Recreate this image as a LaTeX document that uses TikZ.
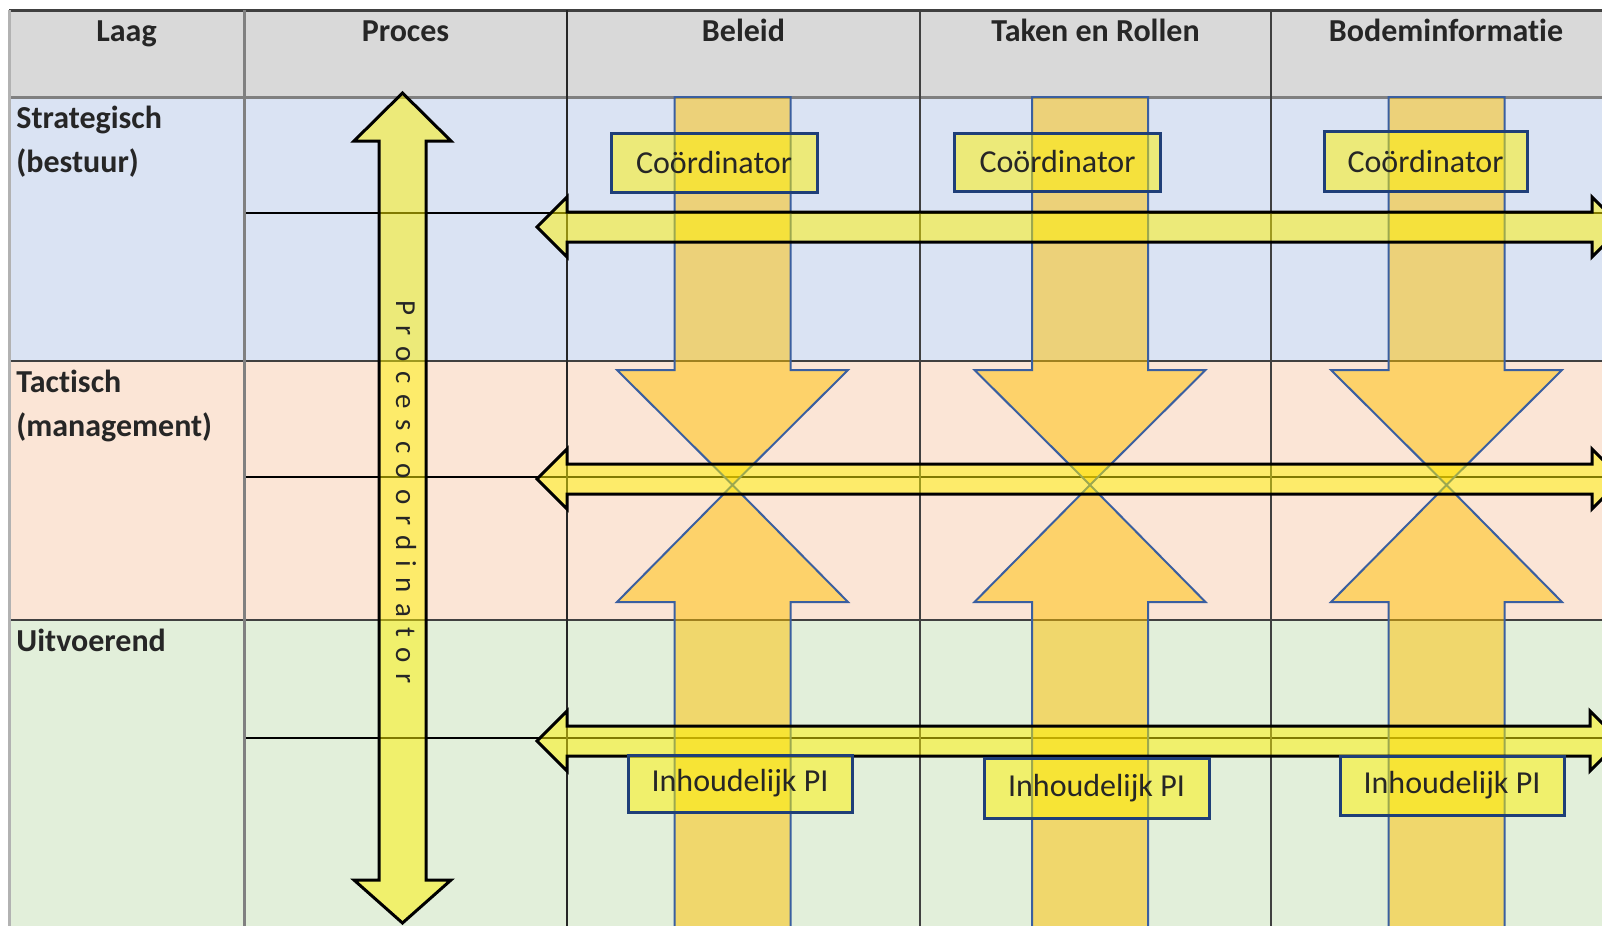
\documentclass[tikz,border=0pt]{standalone}
\usepackage{fontspec}
\setmainfont{Carlito}[Ligatures=NoCommon]
\newfontfamily\spacedfont[LetterSpace=36,Ligatures=NoCommon]{Carlito}
\usetikzlibrary{positioning}

\definecolor{kopgrijs}{HTML}{D9D9D9}
\definecolor{strategblauw}{HTML}{DAE3F3}
\definecolor{tactischroze}{HTML}{FBE5D6}
\definecolor{uitvoergroen}{HTML}{E2EFDA}
\definecolor{oranje}{HTML}{FFC000}
\definecolor{pijlrand}{HTML}{3A5FA0}
\definecolor{kaderblauw}{HTML}{1F3F78}
\definecolor{lijngrijs}{HTML}{404040}
\definecolor{tekstgrijs}{HTML}{262626}

\tikzset{
  geelpijl/.style={draw=black, line width=1.5pt, fill=yellow, fill opacity=0.5},
  oranjepijl/.style={draw=pijlrand, line width=1pt, fill=oranje, fill opacity=0.5},
  rolkader/.style={draw=kaderblauw, line width=1.5pt, fill=yellow, fill opacity=0.5,
    text opacity=1, text=tekstgrijs, inner sep=0pt, font=\fontsize{16}{19}\selectfont},
  kop/.style={anchor=base, text=tekstgrijs, font=\bfseries\fontsize{16}{19}\selectfont},
  laagtekst/.style={anchor=base west, align=left, text=tekstgrijs, inner sep=0pt,
    font=\bfseries\fontsize{16}{22}\selectfont}
}

\begin{document}
\begin{tikzpicture}[x=0.5pt, y=-0.5pt]
  \useasboundingbox (0,0) rectangle (1602,926);
  \fill[white] (0,0) rectangle (1602,926);
  \begin{scope}
    \clip (0,0) rectangle (1602,926);
    % rijen
    \fill[kopgrijs] (9,10) rectangle (1640,97);
    \fill[strategblauw] (9,97) rectangle (1640,361);
    \fill[tactischroze] (9,361) rectangle (1640,620);
    \fill[uitvoergroen] (9,620) rectangle (1640,940);

    % lijnen van de tabel
    \draw[lijngrijs, line width=1.5pt] (9,10) -- (1640,10);
    \draw[gray, line width=1.5pt] (9,97) -- (1640,97);
    \draw[lijngrijs, line width=1pt] (9,361) -- (1640,361);
    \draw[lijngrijs, line width=1pt] (9,620) -- (1640,620);
    \draw[black, line width=1pt] (244,213) -- (1640,213);
    \draw[black, line width=1pt] (244,477) -- (1640,477);
    \draw[black, line width=1pt] (244,738) -- (1640,738);
    \draw[gray!60, line width=1.5pt] (9,10) -- (9,940);
    \draw[gray, line width=1.5pt] (244,10) -- (244,940);
    \draw[black!85, line width=1pt] (567,10) -- (567,940);
    \draw[lijngrijs, line width=1pt] (920,10) -- (920,940);
    \draw[lijngrijs, line width=1pt] (1271,10) -- (1271,940);

    % oranje pijlen
    \draw[oranjepijl] (674.5,97) -- (790.5,97) -- (790.5,370) -- (848,370) -- (732.5,485)
      -- (617,370) -- (674.5,370) -- cycle;
    \draw[oranjepijl] (674.5,940) -- (674.5,602) -- (617,602) -- (732.5,485)
      -- (848,602) -- (790.5,602) -- (790.5,940);
    \draw[oranjepijl] (1032,97) -- (1148,97) -- (1148,370) -- (1205.5,370) -- (1090,485)
      -- (974.5,370) -- (1032,370) -- cycle;
    \draw[oranjepijl] (1032,940) -- (1032,602) -- (974.5,602) -- (1090,485)
      -- (1205.5,602) -- (1148,602) -- (1148,940);
    \draw[oranjepijl] (1388.5,97) -- (1504.5,97) -- (1504.5,370) -- (1562,370) -- (1446.5,485)
      -- (1331,370) -- (1388.5,370) -- cycle;
    \draw[oranjepijl] (1388.5,940) -- (1388.5,602) -- (1331,602) -- (1446.5,485)
      -- (1562,602) -- (1504.5,602) -- (1504.5,940);

    % gele pijlen tussen de kolommen
    \draw[geelpijl] (537,227) -- (567,197) -- (567,212) -- (1592,212) -- (1592,197) -- (1622,227)
      -- (1592,257) -- (1592,242) -- (567,242) -- (567,257) -- cycle;
    \draw[geelpijl] (537,479) -- (567,449) -- (567,464) -- (1592,464) -- (1592,449) -- (1622,479)
      -- (1592,509) -- (1592,494) -- (567,494) -- (567,509) -- cycle;
    \draw[geelpijl] (537,741) -- (567,711) -- (567,726) -- (1590,726) -- (1590,711) -- (1620,741)
      -- (1590,771) -- (1590,756) -- (567,756) -- (567,771) -- cycle;

    % procespijl
    \draw[geelpijl] (402.5,93) -- (451,141) -- (426,141) -- (426,880) -- (451,880) -- (402.5,923)
      -- (354,880) -- (379,880) -- (379,141) -- (354,141) -- cycle;
    \node[rotate=-90, text=tekstgrijs, font=\spacedfont\fontsize{14.5}{16}\selectfont]
      (procescoordinator) at (406,492) {Procescoordinator};

    % rollen
    \node[rolkader, minimum width=103pt, minimum height=29.5pt] (coordbeleid) at (714,163) {Coördinator};
    \node[rolkader, minimum width=103pt, minimum height=29pt] (coordtaken) at (1057.5,162) {Coördinator};
    \node[rolkader, minimum width=101.5pt, minimum height=30pt] (coordbodem) at (1425.5,161.5) {Coördinator};
    \node[rolkader, minimum width=112pt, minimum height=28.5pt] (pibeleid) at (740,783.5) {Inhoudelijk PI};
    \node[rolkader, minimum width=112.5pt, minimum height=30pt] (pitaken) at (1096.5,788.5) {Inhoudelijk PI};
    \node[rolkader, minimum width=112pt, minimum height=29.5pt] (pibodem) at (1452,785.5) {Inhoudelijk PI};

    % kopteksten
    \node[kop] (laag) at (126.5,41) {Laag};
    \node[kop] (proces) at (405.5,41) {Proces};
    \node[kop] (beleid) at (743.5,41) {Beleid};
    \node[kop] (taken) at (1095.5,41) {Taken en Rollen};
    \node[kop] (bodem) at (1446,41) {Bodeminformatie};

    % lagen (basislijn van de laatste regel)
    \node[laagtekst] (strategisch) at (16,172) {Strategisch\\(bestuur)};
    \node[laagtekst] (tactisch) at (16,436) {Tactisch\\(management)};
    \node[laagtekst] (uitvoerend) at (16,651) {Uitvoerend};
  \end{scope}
\end{tikzpicture}
\end{document}
